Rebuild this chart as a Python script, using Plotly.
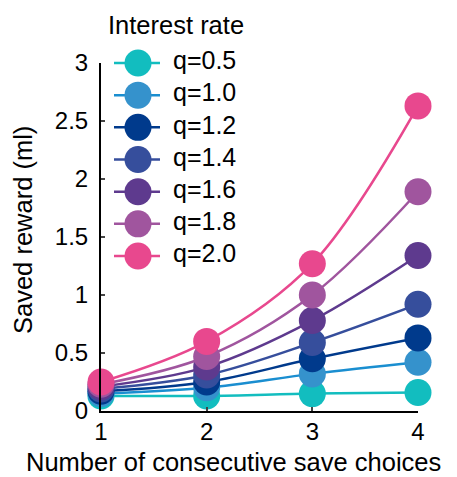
import plotly.graph_objects as go

choices = [1, 2, 3, 4]
rate_labels = ["q=0.5", "q=1.0", "q=1.2", "q=1.4", "q=1.6", "q=1.8", "q=2.0"]
saved_q05 = [0.13, 0.13, 0.15, 0.16]
saved_q10 = [0.15, 0.20, 0.32, 0.42]
saved_q12 = [0.17, 0.25, 0.45, 0.63]
saved_q14 = [0.19, 0.31, 0.59, 0.92]
saved_q16 = [0.21, 0.38, 0.78, 1.34]
saved_q18 = [0.23, 0.47, 1.00, 1.89]
saved_q20 = [0.25, 0.60, 1.27, 2.63]
series = [saved_q05, saved_q10, saved_q12, saved_q14, saved_q16, saved_q18, saved_q20]
dot_colors = ["#12BDBF", "#3592CC", "#003A8C", "#364E9C", "#5E3A8E", "#A0559E", "#E8488E"]
line_colors = ["#12BDBF", "#1A8ED0", "#003A8C", "#364E9C", "#5E3A8E", "#A0559E", "#E8488E"]
y_ticks = [0, 0.5, 1, 1.5, 2, 2.5, 3]
y_tick_text = ["0", "0.5", "1", "1.5", "2", "2.5", "3"]
x_ticks = [1, 2, 3, 4]

FONT = "Arial, Liberation Sans, sans-serif"
FS_TICK = 24
FS_LEG = 25
FS_TITLE = 25.5
W, H = 457, 477

# plot frame in pixels
AX_L, AX_R, AX_T, AX_B = 101, 418, 63, 411


def px(xp):
    return xp / W


def py(yp):
    return 1 - yp / H


fig = go.Figure()
for name, vals, dc, lc in zip(rate_labels, series, dot_colors, line_colors):
    fig.add_trace(go.Scatter(
        x=choices, y=vals, name=name, mode="lines+markers",
        line=dict(color=lc, width=2.5, shape="spline", smoothing=1),
        marker=dict(color=dc, size=27, line=dict(width=0)),
        cliponaxis=False, showlegend=False,
    ))

# Custom legend with large markers, drawn on a hidden full-page axis; rows are item indices
row_px = 32.17
first_row_px = 63
leg_y_range = [(H - first_row_px) / row_px, (0 - first_row_px) / row_px]
for i, (name, dc, lc) in enumerate(zip(rate_labels, dot_colors, line_colors)):
    fig.add_trace(go.Scatter(
        x=[114, 160], y=[i, i], mode="lines", line=dict(color=lc, width=2.5),
        xaxis="x2", yaxis="y2", showlegend=False, hoverinfo="skip", cliponaxis=False,
    ))
    fig.add_trace(go.Scatter(
        x=[138], y=[i], mode="markers", marker=dict(color=dc, size=27, line=dict(width=0)),
        xaxis="x2", yaxis="y2", showlegend=False, hoverinfo="skip", cliponaxis=False,
    ))
    fig.add_trace(go.Scatter(
        x=[173], y=[i], mode="text", text=[name], textposition="middle right",
        textfont=dict(size=FS_LEG, color="black", family=FONT),
        xaxis="x2", yaxis="y2", showlegend=False, hoverinfo="skip", cliponaxis=False,
    ))

fig.add_annotation(
    text="Interest rate", xref="paper", yref="paper", x=px(106), y=py(25),
    xanchor="left", yanchor="middle", showarrow=False,
    font=dict(size=FS_TITLE, color="black", family=FONT),
)
fig.add_annotation(
    text="Number of consecutive save choices", xref="paper", yref="paper",
    x=px(233.5), y=py(462), xanchor="center", yanchor="middle", showarrow=False,
    font=dict(size=FS_TITLE, color="black", family=FONT),
)
fig.add_annotation(
    text="Saved reward (ml)", xref="paper", yref="paper",
    x=px(23), y=py(230), xanchor="center", yanchor="middle", showarrow=False,
    textangle=-90, font=dict(size=FS_TITLE, color="black", family=FONT),
)

fig.update_layout(
    width=W, height=H,
    margin=dict(l=0, r=0, t=0, b=0, pad=0),
    paper_bgcolor="white", plot_bgcolor="rgba(0,0,0,0)",
    font=dict(family=FONT, size=FS_TICK, color="black"),
    showlegend=False,
    xaxis=dict(
        range=[1, 4], tickvals=x_ticks, ticks="inside", ticklen=4, tickwidth=2,
        showline=True, linecolor="black", linewidth=2, showgrid=False, zeroline=False,
        tickfont=dict(size=FS_TICK), domain=[px(AX_L), px(AX_R)], anchor="y",
        automargin=False, ticklabelstandoff=-2,
    ),
    yaxis=dict(
        range=[0, 3], tickvals=y_ticks, ticktext=y_tick_text, ticks="inside", ticklen=4, tickwidth=2,
        showline=True, linecolor="black", linewidth=2, showgrid=False, zeroline=False,
        tickfont=dict(size=FS_TICK), domain=[py(AX_B), py(AX_T)], anchor="x",
        automargin=False, ticklabelstandoff=6,
    ),
    xaxis2=dict(range=[0, W], domain=[0, 1], visible=False, anchor="y2"),
    yaxis2=dict(range=leg_y_range, domain=[0, 1], visible=False, anchor="x2"),
)

fig.write_html("out.html", config={"displayModeBar": False},
               post_script="document.body.style.margin='0';")
